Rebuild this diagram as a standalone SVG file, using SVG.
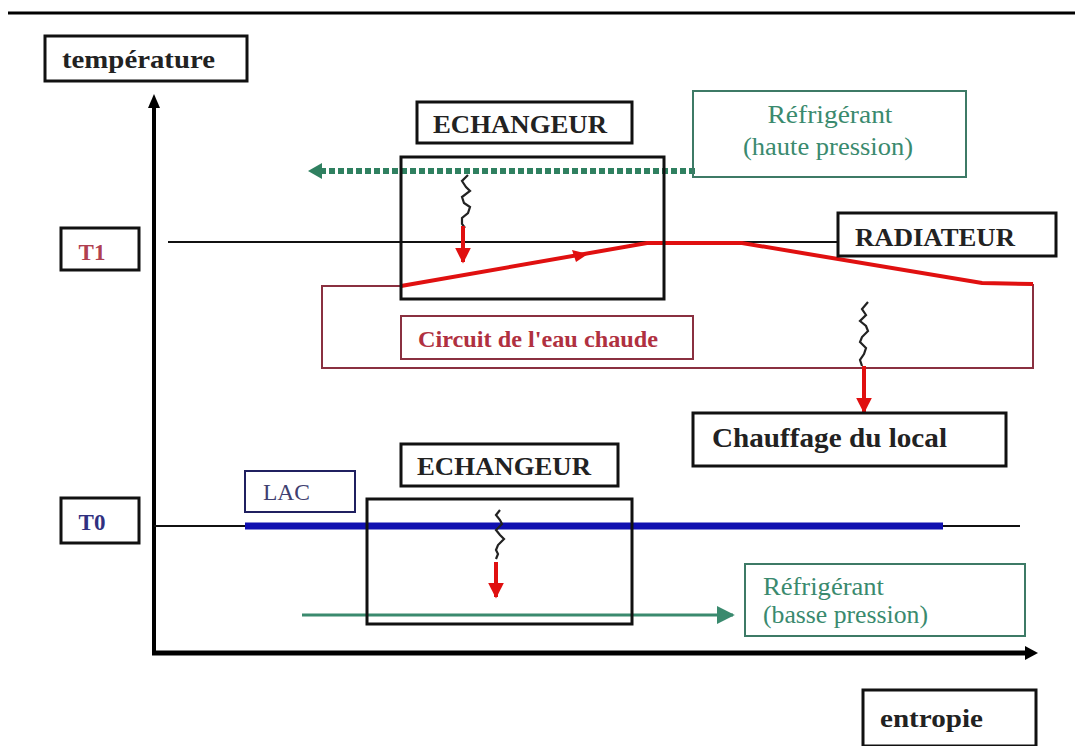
<svg xmlns="http://www.w3.org/2000/svg" width="1075" height="746" viewBox="0 0 1075 746">
<defs>
<style>
.box{fill:none;stroke:#111;stroke-width:3}
.lbl{font-family:"Liberation Serif","Times New Roman",serif;font-weight:bold;fill:#222}
.ref{font-family:"Liberation Serif","Times New Roman",serif;fill:#3a8a6e;font-size:25px}
.refbox{fill:none;stroke:#3d7a66;stroke-width:2}
.red{stroke:#e01010;fill:none}
.sq{fill:none;stroke:#222;stroke-width:2.2}
</style>
<marker id="ared" viewBox="0 0 10 10" refX="9" refY="5" markerWidth="4" markerHeight="4" orient="auto"><path d="M0,0 L10,5 L0,10 Z" fill="#e01010"/></marker>
<marker id="agrn2" viewBox="0 0 10 10" refX="9" refY="5" markerWidth="6" markerHeight="6" orient="auto"><path d="M0,0 L10,5 L0,10 Z" fill="#3a8a6e"/></marker>
</defs>
<rect width="1075" height="746" fill="#fff"/>
<line x1="8" y1="13" x2="1075" y2="13" stroke="#000" stroke-width="3"/>

<g id="connectors">
<!-- axes -->
<line x1="154" y1="655" x2="154" y2="104" stroke="#000" stroke-width="4"/>
<path d="M148,108 L154,94 L160,108 Z" fill="#000"/>
<line x1="152" y1="653" x2="1030" y2="653" stroke="#000" stroke-width="5"/>
<path d="M1025,646 L1038,653 L1025,660 Z" fill="#000"/>
<!-- T1 / T0 levels -->
<line x1="168" y1="242" x2="838" y2="242" stroke="#111" stroke-width="2"/>
<line x1="154" y1="526" x2="1020" y2="526" stroke="#111" stroke-width="2"/>
<line x1="245" y1="526" x2="943" y2="526" stroke="#1010b0" stroke-width="7"/>
<!-- green refrigerant arrows -->
<line x1="695" y1="171" x2="318" y2="171" stroke="#2f8060" stroke-width="6" stroke-dasharray="6 3"/>
<path d="M322,163 L308,171 L322,179 Z" fill="#2f8060"/>
<line x1="302" y1="615" x2="733" y2="615" stroke="#3a8a6e" stroke-width="3" marker-end="url(#agrn2)"/>
<!-- hot water circuit -->
<polyline points="401,286 322,286 322,368 1033,368 1033,284" fill="none" stroke="#8a3040" stroke-width="2"/>
<path class="red" stroke-width="4" d="M401,286 L647,243 L742,243 L982,283 L1033,284"/>
<path d="M572,250 L588,254 L576,262 Z" fill="#e01010"/>
<!-- heat transfer squiggles -->
<path class="sq" d="M468,175 l-6,6 l4,6 l4,4 l-8,6 l2,6 l6,4 l-2,6 l-6,5 l0,6 l3,4"/>
<line class="red" x1="463" y1="226" x2="463" y2="262" stroke-width="4" marker-end="url(#ared)"/>
<path class="sq" d="M868,302 l-6,7 l4,6 l-6,6 l6,5 l2,5 l-6,6 l-2,5 l6,6 l-2,6 l-4,6 l2,6"/>
<line class="red" x1="864" y1="366" x2="864" y2="412" stroke-width="4" marker-end="url(#ared)"/>
<path class="sq" d="M500,510 l-4,5 l4,5 l2,4 l-6,6 l4,5 l4,4 l-6,6 l-2,5 l2,4 l-2,5"/>
<line class="red" x1="496" y1="562" x2="496" y2="597" stroke-width="4" marker-end="url(#ared)"/>
</g>

<g id="temperature"><rect class="box" x="45" y="36" width="202" height="45"/><text class="lbl" x="62" y="68" font-size="26" textLength="153" lengthAdjust="spacingAndGlyphs">température</text></g>
<g id="T1"><rect class="box" x="61" y="228" width="78" height="42" stroke-width="2"/><text x="92" y="260" text-anchor="middle" font-family="Liberation Serif, serif" font-weight="bold" font-size="23" fill="#b04050">T1</text></g>
<g id="T0"><rect class="box" x="61" y="498" width="78" height="45" stroke-width="2"/><text x="92" y="530" text-anchor="middle" font-family="Liberation Serif, serif" font-weight="bold" font-size="23" fill="#303080">T0</text></g>
<g id="LAC"><rect x="245" y="471" width="110" height="41" fill="none" stroke="#202060" stroke-width="2"/><text x="263" y="500" font-family="Liberation Serif, serif" font-size="24" fill="#404070" textLength="47" lengthAdjust="spacingAndGlyphs">LAC</text></g>
<g id="echangeur1-label"><rect class="box" x="417" y="102" width="215" height="41" stroke-width="2"/><text class="lbl" x="433" y="133" font-size="26" textLength="174" lengthAdjust="spacingAndGlyphs">ECHANGEUR</text></g>
<g id="echangeur1"><rect class="box" x="401" y="157" width="263" height="142" stroke-width="2.5"/></g>
<g id="refrig-haute"><rect class="refbox" x="693" y="91" width="273" height="86"/><text class="ref" x="830" y="123" text-anchor="middle" textLength="125" lengthAdjust="spacingAndGlyphs">Réfrigérant</text><text class="ref" x="828" y="155" text-anchor="middle" textLength="170" lengthAdjust="spacingAndGlyphs">(haute pression)</text></g>
<g id="radiateur"><rect class="box" x="838" y="213" width="218" height="43" stroke-width="2.5"/><text class="lbl" x="855" y="246" font-size="26" textLength="160" lengthAdjust="spacingAndGlyphs">RADIATEUR</text></g>
<g id="circuit"><rect x="401" y="316" width="292" height="43" fill="none" stroke="#8a3040" stroke-width="2"/><text x="418" y="347" font-family="Liberation Serif, serif" font-weight="bold" font-size="24" fill="#b03040" textLength="240" lengthAdjust="spacingAndGlyphs">Circuit de l'eau chaude</text></g>
<g id="chauffage"><rect class="box" x="693" y="413" width="313" height="53" stroke-width="2.5"/><text class="lbl" x="712" y="447" font-size="28" textLength="235" lengthAdjust="spacingAndGlyphs">Chauffage du local</text></g>
<g id="echangeur2-label"><rect class="box" x="401" y="444" width="217" height="42" stroke-width="2"/><text class="lbl" x="417" y="475" font-size="26" textLength="174" lengthAdjust="spacingAndGlyphs">ECHANGEUR</text></g>
<g id="echangeur2"><rect class="box" x="367" y="499" width="265" height="125" stroke-width="2.5"/></g>
<g id="refrig-basse"><rect class="refbox" x="745" y="564" width="280" height="72"/><text class="ref" x="763" y="595" textLength="121" lengthAdjust="spacingAndGlyphs">Réfrigérant</text><text class="ref" x="763" y="623" textLength="165" lengthAdjust="spacingAndGlyphs">(basse pression)</text></g>
<g id="entropie"><rect class="box" x="863" y="690" width="173" height="56" stroke-width="2.5"/><text class="lbl" x="880" y="727" font-size="26" textLength="103" lengthAdjust="spacingAndGlyphs">entropie</text></g>
</svg>
